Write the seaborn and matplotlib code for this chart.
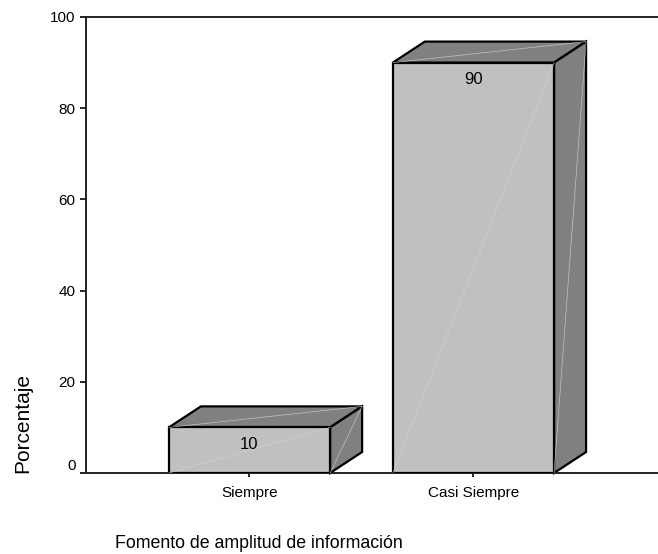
# chart: Fomento de amplitud de informacion (fake 3D bars)
import matplotlib
matplotlib.use("Agg")
import matplotlib.pyplot as plt
import seaborn as sns
import pandas as pd
from matplotlib.patches import Polygon
from matplotlib.lines import Line2D
from matplotlib.transforms import ScaledTranslation

categorias = ["Siempre", "Casi Siempre"]
porcentajes = [10, 90]
y_ticks = [0, 20, 40, 60, 80, 100]

sns.set_theme(style="white")
plt.rcParams['font.family'] = ['Liberation Sans', 'DejaVu Sans']

df = pd.DataFrame({"categoria": categorias, "porcentaje": porcentajes})

W, H = 658, 554
fig = plt.figure(figsize=(W / 100, H / 100), dpi=100)
ax = fig.add_axes([86 / W, 1 - 473 / H, (658 - 86) / W, (473 - 17) / H])

FRONT = "#c0c0c0"
SIDE = "#808080"
DX, DY = 32, 21  # depth of the fake 3D, in pixels

sns.barplot(data=df, x="categoria", y="porcentaje", ax=ax, width=0.72,
            color=FRONT, saturation=1, edgecolor="black", linewidth=1.6, zorder=3)

ax.set_xlim(-0.73, 1.824)
ax.set_ylim(0, 100)
ax.set_yticks(y_ticks)
ax.set_xlabel("")
ax.set_ylabel("")
ax.tick_params(axis="y", length=4, width=1.2, color="black", labelsize=11, pad=3.5,
               left=True, labelcolor="black")
ax.tick_params(axis="x", length=3, width=1.2, color="black", labelsize=11, pad=6,
               bottom=True, labelcolor="black")

for s in ["left", "top", "bottom"]:
    ax.spines[s].set_visible(True)
    ax.spines[s].set_color("#222222")
    ax.spines[s].set_linewidth(1.4)
ax.spines["right"].set_visible(False)

# the 0 label sits a little above the axis line in the original
for lab in ax.get_yticklabels():
    if lab.get_text() == "0":
        lab.set_transform(lab.get_transform() + ScaledTranslation(0, 8 / 100, fig.dpi_scale_trans))

fig.canvas.draw()
to_px = ax.transData.transform
to_data = ax.transData.inverted().transform

for bar, val in zip(ax.patches, porcentajes):
    x0, x1 = bar.get_x(), bar.get_x() + bar.get_width()
    (px0, py0), (px1, py1) = to_px([(x0, 0), (x1, val)])
    top = [(px0, py1), (px1, py1), (px1 + DX, py1 + DY), (px0 + DX, py1 + DY)]
    side = [(px1, py0), (px1 + DX, py0 + DY), (px1 + DX, py1 + DY), (px1, py1)]
    for pts in (top, side):
        ax.add_patch(Polygon(to_data(pts), closed=True, facecolor=SIDE, edgecolor="black",
                             linewidth=1.6, zorder=2.5, clip_on=False))
    # faint diagonal highlights on each face
    diagonales = [
        [(px0, py0), (px1, py1)],
        [(px0, py1), (px1 + DX, py1 + DY)],
        [(px1, py0), (px1 + DX, py1 + DY)],
    ]
    for a, b in diagonales:
        d = to_data([a, b])
        ax.add_line(Line2D(d[:, 0], d[:, 1], color="#d4d4d4", linewidth=0.5, alpha=0.8, zorder=3.5))
    ax.text(bar.get_x() + bar.get_width() / 2, val - 3.7, str(val), ha="center", va="center",
            fontsize=12, color="black", zorder=5)

fig.text(23 / W, 1 - 423 / H, "Porcentaje", rotation=90, ha="center", va="center",
         fontsize=15, color="black")
fig.text(115 / W, 1 - 543 / H, "Fomento de amplitud de información", ha="left", va="center",
         fontsize=12.8, color="black")

fig.savefig("out.png", dpi=100)
